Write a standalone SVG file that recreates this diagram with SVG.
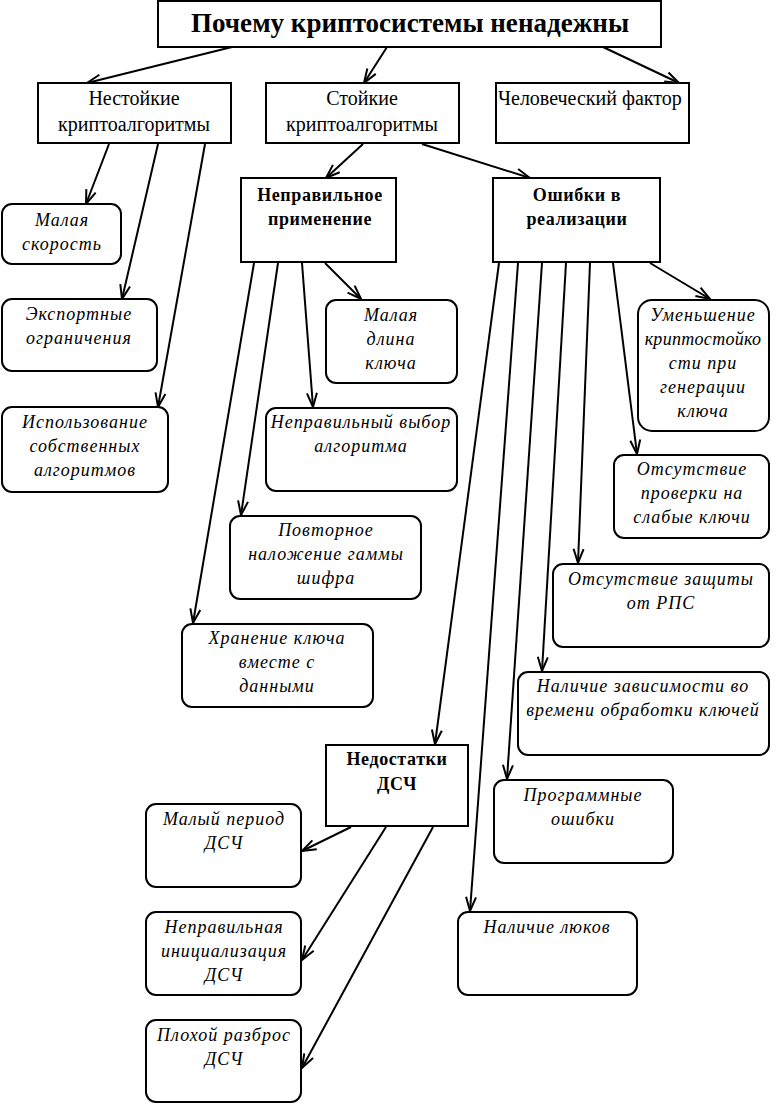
<svg xmlns="http://www.w3.org/2000/svg" width="779" height="1104" viewBox="0 0 779 1104">
<defs>
<marker id="arr" markerUnits="userSpaceOnUse" markerWidth="18" markerHeight="14" viewBox="-16 -7 18 14" refX="0" refY="0" orient="auto">
<path d="M-14,-5 L0,0 L-14,5" fill="none" stroke="#000" stroke-width="2"/>
</marker>
</defs>
<style>
.box{fill:#fff;stroke:#000;stroke-width:2}
.rb{fill:#fff;stroke:#000;stroke-width:2}
.t{font-family:"Liberation Serif","Times New Roman",serif;font-size:20px;fill:#000;text-anchor:middle}
.b{font-family:"Liberation Serif","Times New Roman",serif;font-size:18px;font-weight:bold;letter-spacing:0.6px;fill:#000;text-anchor:middle}
.i{font-family:"Liberation Serif","Times New Roman",serif;font-size:18px;font-style:italic;letter-spacing:1px;fill:#000;text-anchor:middle}
.ttl{font-family:"Liberation Serif","Times New Roman",serif;font-size:28px;font-weight:bold;fill:#000;text-anchor:middle}
.c line{stroke:#000;stroke-width:2;marker-end:url(#arr)}
</style>
<rect width="779" height="1104" fill="#fff"/>
<g class="c" id="connectors">
<line x1="232" y1="47" x2="87" y2="83"/>
<line x1="387" y1="47" x2="364" y2="83"/>
<line x1="603" y1="47" x2="679" y2="83"/>
<line x1="109" y1="144" x2="86" y2="204"/>
<line x1="158" y1="144" x2="122" y2="299"/>
<line x1="205" y1="144" x2="158" y2="407"/>
<line x1="363" y1="144" x2="326" y2="178"/>
<line x1="422" y1="144" x2="530" y2="178"/>
<line x1="325" y1="263" x2="361" y2="299"/>
<line x1="302" y1="263" x2="313" y2="407"/>
<line x1="278" y1="263" x2="241" y2="515"/>
<line x1="254" y1="263" x2="193" y2="623"/>
<line x1="650" y1="263" x2="710" y2="299"/>
<line x1="613" y1="263" x2="637" y2="454"/>
<line x1="590" y1="263" x2="578" y2="563"/>
<line x1="566" y1="263" x2="542" y2="671"/>
<line x1="542" y1="263" x2="507" y2="779"/>
<line x1="518" y1="263" x2="470" y2="911"/>
<line x1="499" y1="263" x2="435" y2="744"/>
<line x1="351" y1="827" x2="302" y2="851"/>
<line x1="386" y1="827" x2="302" y2="960"/>
<line x1="433" y1="827" x2="302" y2="1068"/>
</g>
<g id="title"><rect class="box" x="158" y="1" width="503" height="46"/><text class="ttl" x="410" y="32" textLength="438" lengthAdjust="spacingAndGlyphs">Почему криптосистемы ненадежны</text></g>
<g id="n1"><rect class="box" x="38" y="83" width="193" height="60"/><text class="t" x="134" y="105">Нестойкие</text><text class="t" x="134" y="131">криптоалгоритмы</text></g>
<g id="n2"><rect class="box" x="266" y="83" width="193" height="60"/><text class="t" x="362" y="105">Стойкие</text><text class="t" x="362" y="131">криптоалгоритмы</text></g>
<g id="n3"><rect class="box" x="496" y="83" width="193" height="60"/><text class="t" x="498" y="105" style="text-anchor:start">Человеческий фактор</text></g>
<g id="n4"><rect class="box" x="241" y="178" width="155" height="84"/><text class="b" x="320" y="201">Неправильное</text><text class="b" x="320" y="225">применение</text></g>
<g id="n5"><rect class="box" x="493" y="178" width="167" height="84"/><text class="b" x="577" y="201">Ошибки в</text><text class="b" x="577" y="225">реализации</text></g>
<g id="n6"><rect class="rb" x="2" y="204" width="119" height="60" rx="10"/><text class="i" x="62" y="226">Малая</text><text class="i" x="62" y="250">скорость</text></g>
<g id="n7"><rect class="rb" x="2" y="299" width="155" height="72" rx="10"/><text class="i" x="79" y="320">Экспортные</text><text class="i" x="79" y="344">ограничения</text></g>
<g id="n8"><rect class="rb" x="2" y="407" width="166" height="85" rx="10"/><text class="i" x="85" y="428">Использование</text><text class="i" x="85" y="452">собственных</text><text class="i" x="85" y="476">алгоритмов</text></g>
<g id="n9"><rect class="rb" x="326" y="300" width="131" height="83" rx="10"/><text class="i" x="391" y="321">Малая</text><text class="i" x="391" y="345">длина</text><text class="i" x="391" y="369">ключа</text></g>
<g id="n10"><rect class="rb" x="266" y="408" width="191" height="83" rx="10"/><text class="i" x="361" y="428">Неправильный выбор</text><text class="i" x="361" y="452">алгоритма</text></g>
<g id="n11"><rect class="rb" x="230" y="516" width="191" height="83" rx="10"/><text class="i" x="326" y="536">Повторное</text><text class="i" x="326" y="560">наложение гаммы</text><text class="i" x="326" y="584">шифра</text></g>
<g id="n12"><rect class="rb" x="182" y="624" width="191" height="83" rx="10"/><text class="i" x="277" y="644">Хранение ключа</text><text class="i" x="277" y="668">вместе с</text><text class="i" x="277" y="692">данными</text></g>
<g id="n13"><rect class="rb" x="638" y="300" width="131" height="131" rx="14"/><text class="i" x="703" y="321">Уменьшение</text><text class="i" x="703" y="345" style="letter-spacing:0.3px">криптостойко</text><text class="i" x="703" y="369">сти при</text><text class="i" x="703" y="393">генерации</text><text class="i" x="703" y="417">ключа</text></g>
<g id="n14"><rect class="rb" x="614" y="455" width="155" height="83" rx="10"/><text class="i" x="692" y="475">Отсутствие</text><text class="i" x="692" y="499">проверки на</text><text class="i" x="692" y="523">слабые ключи</text></g>
<g id="n15"><rect class="rb" x="553" y="564" width="216" height="83" rx="10"/><text class="i" x="661" y="585">Отсутствие защиты</text><text class="i" x="661" y="609">от РПС</text></g>
<g id="n16"><rect class="rb" x="518" y="672" width="251" height="83" rx="10"/><text class="i" x="643" y="692">Наличие зависимости во</text><text class="i" x="643" y="716">времени обработки ключей</text></g>
<g id="n17"><rect class="rb" x="494" y="780" width="179" height="83" rx="10"/><text class="i" x="583" y="801">Программные</text><text class="i" x="583" y="825">ошибки</text></g>
<g id="n18"><rect class="rb" x="458" y="912" width="179" height="83" rx="10"/><text class="i" x="547" y="933">Наличие люков</text></g>
<g id="n19"><rect class="box" x="326" y="745" width="142" height="81"/><text class="b" x="397" y="765">Недостатки</text><text class="b" x="397" y="790">ДСЧ</text></g>
<g id="n20"><rect class="rb" x="146" y="804" width="155" height="83" rx="10"/><text class="i" x="224" y="825">Малый период</text><text class="i" x="224" y="849">ДСЧ</text></g>
<g id="n21"><rect class="rb" x="146" y="912" width="155" height="83" rx="10"/><text class="i" x="224" y="933">Неправильная</text><text class="i" x="224" y="957">инициализация</text><text class="i" x="224" y="981">ДСЧ</text></g>
<g id="n22"><rect class="rb" x="146" y="1020" width="155" height="82" rx="10"/><text class="i" x="224" y="1041">Плохой разброс</text><text class="i" x="224" y="1065">ДСЧ</text></g>
</svg>
